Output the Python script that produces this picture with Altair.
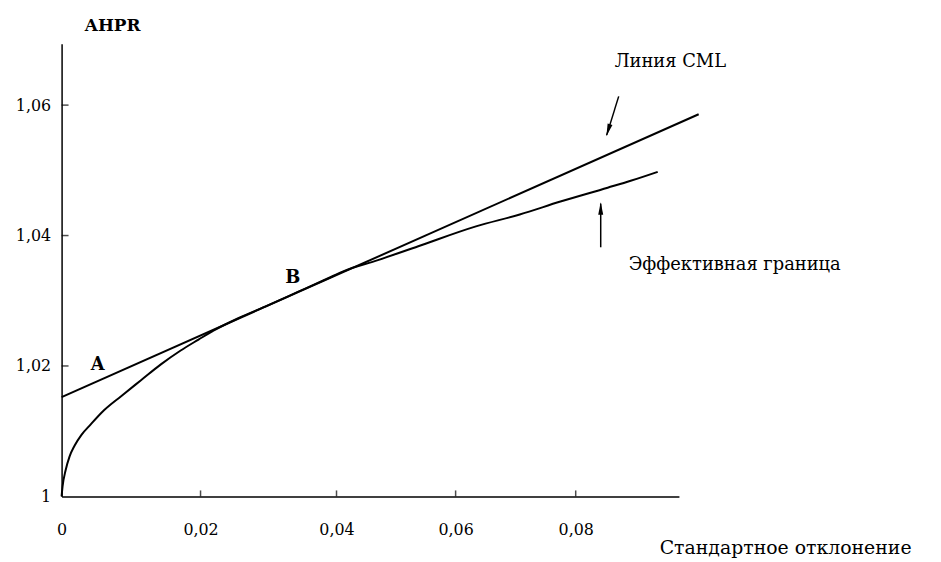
import altair as alt
import pandas as pd

# Efficient frontier (standard deviation, AHPR)
frontier_sd = [0.0, 0.00014, 0.00057, 0.00114, 0.00186, 0.00286, 0.004, 0.00614, 0.00857,
               0.01143, 0.01429, 0.01714, 0.01971, 0.0219, 0.02555, 0.02993, 0.03431,
               0.03869, 0.04102, 0.04695, 0.05373, 0.06339, 0.07068, 0.07746, 0.08542,
               0.08932, 0.0939]
frontier_ahpr = [1.0, 1.00152, 1.00396, 1.00609, 1.00776, 1.00944, 1.01081, 1.01324, 1.01537,
                 1.01781, 1.02024, 1.02237, 1.02405, 1.02542, 1.02732, 1.0293, 1.03135,
                 1.03341, 1.03447, 1.03623, 1.03836, 1.0414, 1.04323, 1.04521, 1.04734,
                 1.0484, 1.04977]

# Capital market line
cml_sd = [0.0, 0.10085]
cml_ahpr = [1.01522, 1.0586]

# Arrows: tail -> tip, head position and rotation
arrow_sd_tail = [0.08729, 0.08424]
arrow_ahpr_tail = [1.06134, 1.0382]
arrow_sd_tip = [0.08525, 0.08424]
arrow_ahpr_tip = [1.0554, 1.0449]
arrow_head_sd = [0.08551, 0.08424]
arrow_head_ahpr = [1.05613, 1.04414]
arrow_angle = [197, 0]

# Point labels
point_labels = ["A", "B"]
point_sd = [0.0052, 0.03358]
point_ahpr = [1.0202, 1.03349]

# Curve labels
curve_labels = ["Линия CML", "Эффективная граница"]
curve_sd = [0.0866, 0.08898]
curve_ahpr = [1.06667, 1.03546]

x_ticks = [0, 0.02, 0.04, 0.06, 0.08]
y_ticks = [1, 1.02, 1.04, 1.06]

FONT = "DejaVu Serif"
FS = 16
FS2 = 18

frontier_df = pd.DataFrame({"sd": frontier_sd, "ahpr": frontier_ahpr, "o": range(len(frontier_sd))})
cml_df = pd.DataFrame({"sd": cml_sd, "ahpr": cml_ahpr})
arrow_df = pd.DataFrame({"sd": arrow_sd_tail, "ahpr": arrow_ahpr_tail,
                         "sd2": arrow_sd_tip, "ahpr2": arrow_ahpr_tip})
head_df = pd.DataFrame({"sd": arrow_head_sd, "ahpr": arrow_head_ahpr, "angle": arrow_angle})
plabel_df = pd.DataFrame({"sd": point_sd, "ahpr": point_ahpr, "t": point_labels})
clabel_df = pd.DataFrame({"sd": curve_sd, "ahpr": curve_ahpr, "t": curve_labels})
xtick_df = pd.DataFrame({"sd": x_ticks[1:]})
ytick_df = pd.DataFrame({"ahpr": y_ticks[1:]})

xscale = alt.Scale(domain=[0, 0.02, 0.04, 0.06, 0.08, 0.0975],
                   range=[0, 140, 277, 397, 518, 622], nice=False, zero=False)
yscale = alt.Scale(domain=[1, 1.0694], nice=False, zero=False)

xaxis = alt.Axis(values=x_ticks, labelExpr="replace(format(datum.value, '.2~f'), '.', ',')",
                 grid=False, ticks=False, domainColor="black", domainWidth=1.5,
                 labelFont=FONT, labelFontSize=FS, labelColor="black", labelPadding=25,
                 labelFlush=False, title="Стандартное отклонение", titleFont=FONT,
                 titleFontSize=19, titleFontWeight="normal", titleColor="black",
                 titleX=729, titleY=52, titleAlign="center", titleBaseline="middle")
yaxis = alt.Axis(values=y_ticks, labelExpr="replace(format(datum.value, '.2~f'), '.', ',')",
                 grid=False, ticks=False, domainColor="black", domainWidth=1.5,
                 labelFont=FONT, labelFontSize=FS, labelColor="black", labelPadding=11,
                 labelFlush=False, title="AHPR", titleFont=FONT, titleFontSize=17,
                 titleFontWeight="bold", titleColor="black", titleAngle=0,
                 titleX=51, titleY=-18, titleAlign="center", titleBaseline="middle")

X = alt.X("sd:Q", scale=xscale, axis=xaxis)
Y = alt.Y("ahpr:Q", scale=yscale, axis=yaxis)

frontier = alt.Chart(frontier_df).mark_line(color="black", strokeWidth=2, interpolate="monotone").encode(
    x=X, y=Y, order="o:Q")
cml = alt.Chart(cml_df).mark_line(color="black", strokeWidth=2).encode(x=X, y=Y)
arrows = alt.Chart(arrow_df).mark_rule(color="black", strokeWidth=1.5).encode(
    x=X, y=Y, x2="sd2:Q", y2="ahpr2:Q")
heads = alt.Chart(head_df).mark_point(
    shape="M0,-1L0.4,1L-0.4,1Z", filled=True, color="black", size=160, opacity=1
).encode(x=X, y=Y, angle=alt.Angle("angle:Q", scale=None))
plabels = alt.Chart(plabel_df).mark_text(
    font=FONT, fontSize=18, fontWeight="bold", color="black", align="center", baseline="middle"
).encode(x=X, y=Y, text="t:N")
clabels = alt.Chart(clabel_df).mark_text(
    font=FONT, fontSize=FS2, color="black", align="left", baseline="middle"
).encode(x=X, y=Y, text="t:N")
xticks = alt.Chart(xtick_df).mark_tick(color="black", size=6, thickness=1.5, orient="vertical").encode(
    x=X, y=alt.value(453))
yticks = alt.Chart(ytick_df).mark_tick(color="black", size=7, thickness=1.5, orient="horizontal").encode(
    y=Y, x=alt.value(3.5))

chart = alt.layer(frontier, cml, arrows, heads, plabels, clabels, xticks, yticks).properties(
    width=616, height=456,
    autosize=alt.AutoSizeParams(type="none"),
    padding={"left": 54, "top": 34, "right": 262, "bottom": 62},
    background="white",
).configure_view(stroke=None)

chart.save("out.html", embed_options={"renderer": "svg", "actions": False})
